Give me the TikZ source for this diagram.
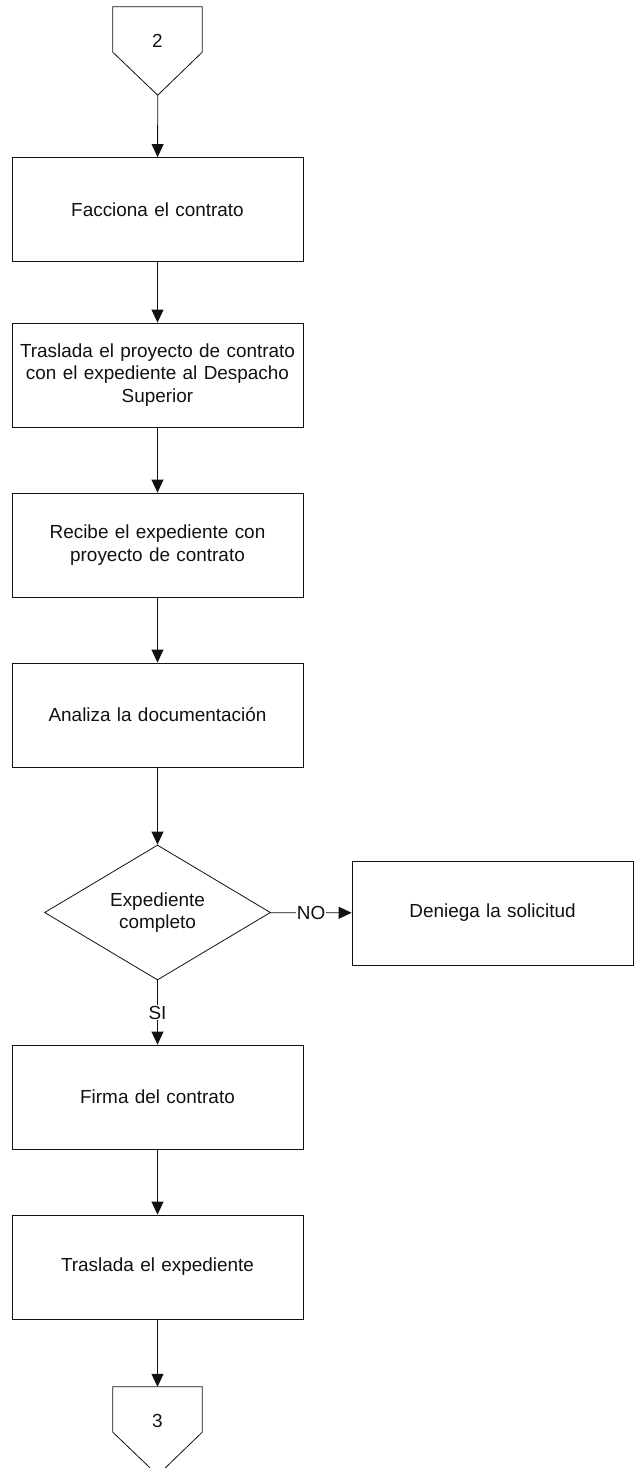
\documentclass[tikz,border=0pt]{standalone}
\usepackage{fontspec}
\setmainfont{Liberation Sans}
\usepackage{tikz}
\usetikzlibrary{positioning,arrows.meta,calc,shapes.geometric}
\definecolor{ink}{HTML}{111111}
\tikzset{
  proc/.style={rectangle, draw=ink, line width=0.8bp, minimum width=291bp, minimum height=104bp, text width=280bp, align=center, inner sep=2bp, font=\fontsize{19}{22.5}\selectfont, text=ink},
  dec/.style={diamond, draw=ink, line width=0.8bp, minimum width=226bp, minimum height=135bp, aspect=1.67, inner sep=0pt, align=center, font=\fontsize{19}{22.5}\selectfont, text=ink},
  offpage/.style={rectangle, draw=none, minimum width=89bp, minimum height=45bp, inner sep=0pt},
  lbl/.style={font=\fontsize{19}{22.5}\selectfont, text=ink, inner sep=1bp},
  flow/.style={-{Triangle[length=13bp, width=12bp]}, draw=ink, line width=0.8bp},
}
\begin{document}
\begin{tikzpicture}[x=1bp, y=-1bp]
\useasboundingbox (0,0) rectangle (634,1468);
% off-page connector 2
\node[offpage] (top) at (157.5,29.5) {};
\draw[ink, line width=0.8bp] (top.north west) -- (top.north east) -- (top.south east) -- ++(-44.5,43) coordinate (toptip) -- (top.south west) -- cycle;
\node[lbl] (ntop) at (157.5,40.5) {2};
% process steps
\node[proc] (b1) at (157.5,209.5) {Facciona el contrato};
\node[proc] (b2) at (157.5,375) {Traslada el proyecto de contrato\\con el expediente al Despacho\\Superior};
\node[proc] (b3) at (157.5,545) {Recibe el expediente con\\proyecto de contrato};
\node[proc] (b4) at (157.5,715) {Analiza la documentación};
\node[dec] (q) at (157.5,912.5) {Expediente\\completo};
\node[proc, minimum width=281bp, text width=270bp] (den) at (492.5,913) {Deniega la solicitud};
\node[proc] (b5) at (157.5,1097) {Firma del contrato};
\node[proc] (b6) at (157.5,1267) {Traslada el expediente};
% off-page connector 3
\node[offpage] (bot) at (157.5,1409.5) {};
\draw[ink, line width=0.8bp] (bot.north west) -- (bot.north east) -- (bot.south east) -- ++(-44.5,43) -- (bot.south west) -- cycle;
\node[lbl] (nbot) at (157.5,1421) {3};
% connectors
\draw[flow] (toptip) -- (b1);
\draw[flow] (b1) -- (b2);
\draw[flow] (b2) -- (b3);
\draw[flow] (b3) -- (b4);
\draw[flow] (b4) -- (q);
\draw[flow] (q) -- node[lbl, fill=white] {NO} (den);
\draw[flow] (q) -- node[lbl, fill=white] {SI} (b5);
\draw[flow] (b5) -- (b6);
\draw[flow] (b6) -- (bot.north);
\end{tikzpicture}
\end{document}
